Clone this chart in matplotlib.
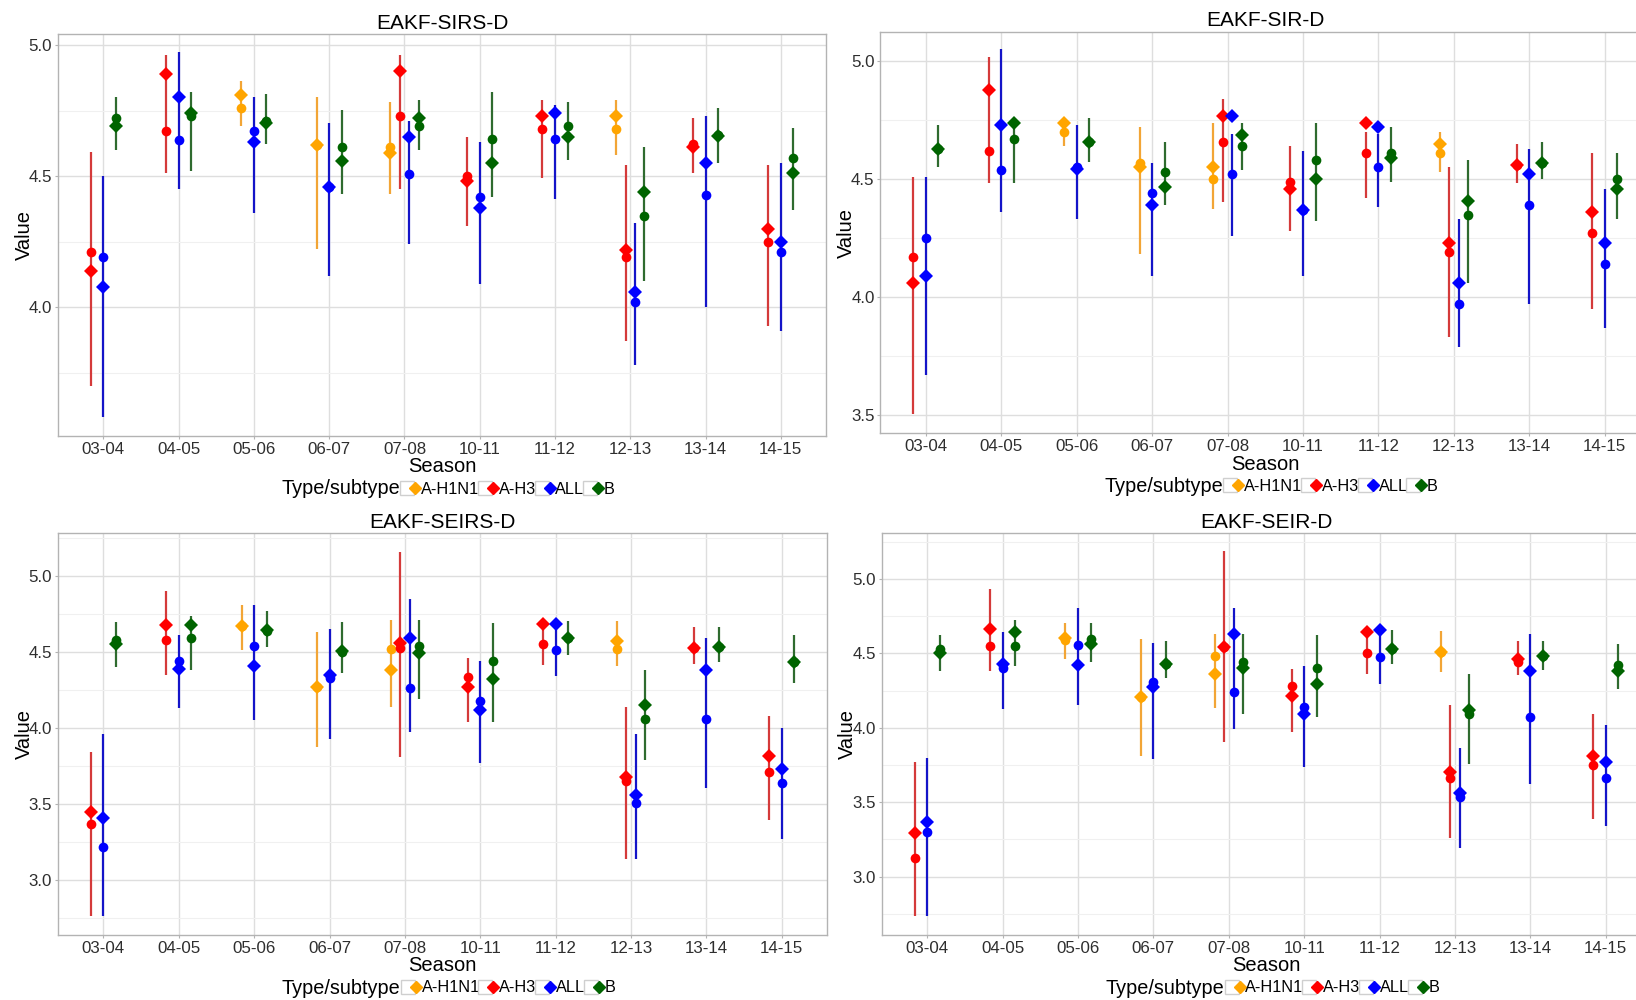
import matplotlib
matplotlib.use('Agg')
import matplotlib.pyplot as plt
from matplotlib.lines import Line2D
from matplotlib.legend_handler import HandlerTuple

plt.rcParams['font.family'] = ['Liberation Sans', 'DejaVu Sans']

seasons = ['03-04', '04-05', '05-06', '06-07', '07-08', '10-11', '11-12', '12-13', '13-14', '14-15']
subtypes = ['A-H1N1', 'A-H3', 'ALL', 'B']
point_colors = ['#FFA500', '#FF0000', '#0000FF', '#006400']
line_colors = ['#F2A536', '#D43A3A', '#1414C8', '#2F6B2F']

# rows: season, lower, upper, circle value, diamond value
sirs_h1n1 = [('05-06', 4.693, 4.861, 4.760, 4.809), ('06-07', 4.221, 4.802, 4.620, 4.620),
             ('07-08', 4.431, 4.781, 4.611, 4.590), ('12-13', 4.582, 4.792, 4.681, 4.731)]
sirs_h3 = [('03-04', 3.700, 4.591, 4.210, 4.140), ('04-05', 4.511, 4.961, 4.671, 4.889),
           ('07-08', 4.451, 4.961, 4.731, 4.901), ('10-11', 4.311, 4.651, 4.502, 4.482),
           ('11-12', 4.492, 4.792, 4.681, 4.731), ('12-13', 3.872, 4.541, 4.190, 4.220),
           ('13-14', 4.511, 4.720, 4.621, 4.611), ('14-15', 3.930, 4.541, 4.250, 4.300)]
sirs_all = [('03-04', 3.581, 4.502, 4.190, 4.079), ('04-05', 4.451, 4.972, 4.639, 4.801),
            ('05-06', 4.361, 4.802, 4.672, 4.632), ('06-07', 4.119, 4.701, 4.460, 4.460),
            ('07-08', 4.240, 4.712, 4.510, 4.649), ('10-11', 4.090, 4.630, 4.421, 4.380),
            ('11-12', 4.412, 4.771, 4.640, 4.741), ('12-13', 3.780, 4.320, 4.019, 4.058),
            ('13-14', 4.001, 4.731, 4.429, 4.550), ('14-15', 3.910, 4.550, 4.210, 4.250)]
sirs_b = [('03-04', 4.601, 4.802, 4.720, 4.691), ('04-05', 4.521, 4.821, 4.731, 4.740),
          ('05-06', 4.621, 4.812, 4.712, 4.704), ('06-07', 4.431, 4.751, 4.611, 4.559),
          ('07-08', 4.601, 4.792, 4.691, 4.720), ('10-11', 4.422, 4.821, 4.640, 4.550),
          ('11-12', 4.562, 4.781, 4.691, 4.651), ('12-13', 4.100, 4.611, 4.349, 4.441),
          ('13-14', 4.550, 4.761, 4.658, 4.653), ('14-15', 4.371, 4.682, 4.571, 4.511)]

sir_h1n1 = [('05-06', 4.642, 4.754, 4.699, 4.740), ('06-07', 4.183, 4.720, 4.570, 4.550),
            ('07-08', 4.372, 4.740, 4.500, 4.550), ('12-13', 4.531, 4.699, 4.610, 4.649)]
sir_h3 = [('03-04', 3.503, 4.511, 4.170, 4.060), ('04-05', 4.483, 5.020, 4.620, 4.878),
          ('07-08', 4.402, 4.840, 4.659, 4.770), ('10-11', 4.282, 4.641, 4.490, 4.460),
          ('11-12', 4.420, 4.699, 4.610, 4.740), ('12-13', 3.832, 4.550, 4.190, 4.229),
          ('13-14', 4.483, 4.651, 4.559, 4.559), ('14-15', 3.950, 4.610, 4.270, 4.360)]
sir_all = [('03-04', 3.671, 4.511, 4.252, 4.089), ('04-05', 4.362, 5.051, 4.539, 4.729),
           ('05-06', 4.331, 4.730, 4.553, 4.542), ('06-07', 4.089, 4.570, 4.440, 4.389),
           ('07-08', 4.261, 4.690, 4.521, 4.770), ('10-11', 4.089, 4.621, 4.369, 4.369),
           ('11-12', 4.381, 4.690, 4.550, 4.720), ('12-13', 3.790, 4.330, 3.971, 4.060),
           ('13-14', 3.972, 4.630, 4.391, 4.521), ('14-15', 3.870, 4.460, 4.139, 4.229)]
sir_b = [('03-04', 4.553, 4.730, 4.628, 4.628), ('04-05', 4.483, 4.730, 4.669, 4.738),
         ('05-06', 4.572, 4.761, 4.659, 4.659), ('06-07', 4.392, 4.659, 4.531, 4.468),
         ('07-08', 4.539, 4.740, 4.641, 4.689), ('10-11', 4.321, 4.740, 4.580, 4.500),
         ('11-12', 4.490, 4.720, 4.610, 4.590), ('12-13', 4.061, 4.580, 4.350, 4.409),
         ('13-14', 4.500, 4.659, 4.570, 4.570), ('14-15', 4.330, 4.610, 4.500, 4.460)]

seirs_h1n1 = [('05-06', 4.514, 4.809, 4.671, 4.671), ('06-07', 3.874, 4.630, 4.273, 4.273),
              ('07-08', 4.141, 4.711, 4.518, 4.380), ('12-13', 4.411, 4.702, 4.520, 4.571)]
seirs_h3 = [('03-04', 2.763, 3.841, 3.370, 3.449), ('04-05', 4.352, 4.904, 4.579, 4.678),
            ('07-08', 3.813, 5.160, 4.529, 4.558), ('10-11', 4.043, 4.461, 4.338, 4.271),
            ('11-12', 4.413, 4.682, 4.551, 4.682), ('12-13', 3.140, 4.141, 3.653, 3.679),
            ('13-14', 4.422, 4.663, 4.529, 4.529), ('14-15', 3.394, 4.080, 3.710, 3.819)]
seirs_all = [('03-04', 2.763, 3.960, 3.221, 3.407), ('04-05', 4.130, 4.612, 4.444, 4.391),
             ('05-06', 4.054, 4.809, 4.540, 4.411), ('06-07', 3.931, 4.652, 4.327, 4.349),
             ('07-08', 3.973, 4.851, 4.262, 4.590), ('10-11', 3.771, 4.439, 4.181, 4.122),
             ('11-12', 4.341, 4.682, 4.511, 4.682), ('12-13', 3.140, 3.960, 3.510, 3.559),
             ('13-14', 3.605, 4.590, 4.062, 4.380), ('14-15', 3.272, 3.999, 3.642, 3.732)]
seirs_b = [('03-04', 4.404, 4.700, 4.579, 4.551), ('04-05', 4.382, 4.739, 4.590, 4.678),
           ('05-06', 4.533, 4.770, 4.640, 4.645), ('06-07', 4.360, 4.700, 4.500, 4.509),
           ('07-08', 4.192, 4.711, 4.540, 4.492), ('10-11', 4.043, 4.691, 4.441, 4.321),
           ('11-12', 4.481, 4.702, 4.593, 4.593), ('12-13', 3.793, 4.380, 4.062, 4.150),
           ('13-14', 4.433, 4.663, 4.536, 4.536), ('14-15', 4.295, 4.610, 4.435, 4.435)]

seir_h1n1 = [('05-06', 4.462, 4.704, 4.590, 4.606), ('06-07', 3.811, 4.595, 4.209, 4.209),
             ('07-08', 4.133, 4.633, 4.483, 4.362), ('12-13', 4.375, 4.653, 4.512, 4.512)]
seir_h3 = [('03-04', 2.733, 3.773, 3.128, 3.291), ('04-05', 4.384, 4.933, 4.552, 4.666),
           ('07-08', 3.903, 5.188, 4.543, 4.543), ('10-11', 3.972, 4.393, 4.283, 4.212),
           ('11-12', 4.364, 4.644, 4.503, 4.644), ('12-13', 3.262, 4.156, 3.663, 3.701),
           ('13-14', 4.355, 4.581, 4.440, 4.465), ('14-15', 3.385, 4.091, 3.750, 3.811)]
seir_all = [('03-04', 2.733, 3.800, 3.302, 3.370), ('04-05', 4.124, 4.642, 4.404, 4.427),
            ('05-06', 4.156, 4.805, 4.554, 4.424), ('06-07', 3.793, 4.572, 4.310, 4.272),
            ('07-08', 3.990, 4.805, 4.243, 4.630), ('10-11', 3.735, 4.415, 4.138, 4.093),
            ('11-12', 4.297, 4.660, 4.474, 4.660), ('12-13', 3.195, 3.865, 3.533, 3.562),
            ('13-14', 3.623, 4.633, 4.071, 4.382), ('14-15', 3.343, 4.021, 3.663, 3.770)]
seir_b = [('03-04', 4.384, 4.624, 4.530, 4.505), ('04-05', 4.418, 4.722, 4.552, 4.644),
          ('05-06', 4.440, 4.704, 4.595, 4.563), ('06-07', 4.335, 4.581, 4.431, 4.431),
          ('07-08', 4.095, 4.633, 4.440, 4.404), ('10-11', 4.073, 4.622, 4.404, 4.292),
          ('11-12', 4.427, 4.655, 4.530, 4.530), ('12-13', 3.755, 4.364, 4.095, 4.122),
          ('13-14', 4.386, 4.581, 4.485, 4.485), ('14-15', 4.263, 4.563, 4.424, 4.382)]

titles = ['EAKF-SIRS-D', 'EAKF-SIR-D', 'EAKF-SEIRS-D', 'EAKF-SEIR-D']
panel_data = [[sirs_h1n1, sirs_h3, sirs_all, sirs_b],
              [sir_h1n1, sir_h3, sir_all, sir_b],
              [seirs_h1n1, seirs_h3, seirs_all, seirs_b],
              [seir_h1n1, seir_h3, seir_all, seir_b]]

W, H = 1636, 1000
# panel boxes in pixels: left, top, right, bottom
boxes = [(58.2, 34.3, 826.0, 436.0), (880.5, 31.7, 1650.0, 433.3),
         (58.2, 533.3, 827.0, 935.0), (882.0, 533.3, 1651.0, 935.0)]
ylims = [(3.509, 5.041), (3.422, 5.126), (2.641, 5.280), (2.608, 5.307)]
yticks = [[4.0, 4.5, 5.0], [3.5, 4.0, 4.5, 5.0], [3.0, 3.5, 4.0, 4.5, 5.0], [3.0, 3.5, 4.0, 4.5, 5.0]]

fig = plt.figure(figsize=(W / 100, H / 100), dpi=100)

legend_handles = []
for k in range(4):
    box = Line2D([], [], marker='s', ms=9.5, mfc='white', mec='#CFCFCF', mew=1.0, ls='none')
    dia = Line2D([], [], marker='D', ms=6, mfc=point_colors[k], mec=point_colors[k], ls='none')
    legend_handles.append((box, dia))

for p in range(4):
    l, t, r, b = boxes[p]
    ax = fig.add_axes([l / W, 1 - b / H, (r - l) / W, (b - t) / H])
    series = panel_data[p]
    present = [set(row[0] for row in rows) for rows in series]

    for k, rows in enumerate(series):
        for season, lo, hi, circ, diam in rows:
            i = seasons.index(season)
            grp = [kk for kk in range(4) if season in present[kk]]
            n = len(grp)
            x = i + (grp.index(k) - (n - 1) / 2) * 0.5 / n
            ax.vlines(x, lo, hi, color=line_colors[k], lw=1.6, zorder=2)
            ax.plot(x, circ, 'o', ms=7, color=point_colors[k], mew=0, zorder=3)
            ax.plot(x, diam, 'D', ms=7.5, color=point_colors[k], mew=0, zorder=3)

    ax.set_xlim(-0.6, len(seasons) - 0.4)
    ax.set_ylim(*ylims[p])
    ax.set_xticks(range(len(seasons)))
    ax.set_xticklabels(seasons, fontsize=12.2, color='#2E2E2E')
    ax.set_yticks(yticks[p])
    ax.set_yticklabels(['%.1f' % v for v in yticks[p]], fontsize=12.2, color='#2E2E2E')
    ax.set_yticks([v + 0.25 for v in [yticks[p][0] - 0.5] + yticks[p]
                   if ylims[p][0] < v + 0.25 < ylims[p][1]], minor=True)
    ax.grid(True, which='major', color='#DEDEDE', lw=1.0, zorder=0)
    ax.grid(True, which='minor', axis='y', color='#F0F0F0', lw=0.8, zorder=0)
    ax.set_axisbelow(True)
    for sp in ax.spines.values():
        sp.set_color('#B3B3B3')
        sp.set_linewidth(1.0)
    ax.tick_params(axis='both', which='major', length=2.5, width=0.8, color='#B3B3B3', pad=1.8)
    ax.tick_params(axis='y', which='minor', length=0)

    ax.set_title(titles[p], fontsize=15, pad=4)
    ax.set_xlabel('Season', fontsize=14.5)
    ax.xaxis.set_label_coords(0.5, -0.053)
    ax.set_ylabel('Value', fontsize=14.5)
    ax.yaxis.set_label_coords(-0.032, 0.5)

    wpx = r - l
    ax.text(0.5 - 161 / wpx, -53 / (b - t), 'Type/subtype', transform=ax.transAxes,
            fontsize=14.3, ha='left', va='center')
    ax.legend(legend_handles, subtypes, handler_map={tuple: HandlerTuple(ndivide=None)},
              loc='center left', bbox_to_anchor=(0.5 - 39 / wpx, -53 / (b - t)),
              ncol=4, frameon=False, fontsize=11.7, handlelength=1.0, handletextpad=0.1,
              columnspacing=0.1, borderpad=0, borderaxespad=0)

fig.savefig('out.png', dpi=100)
